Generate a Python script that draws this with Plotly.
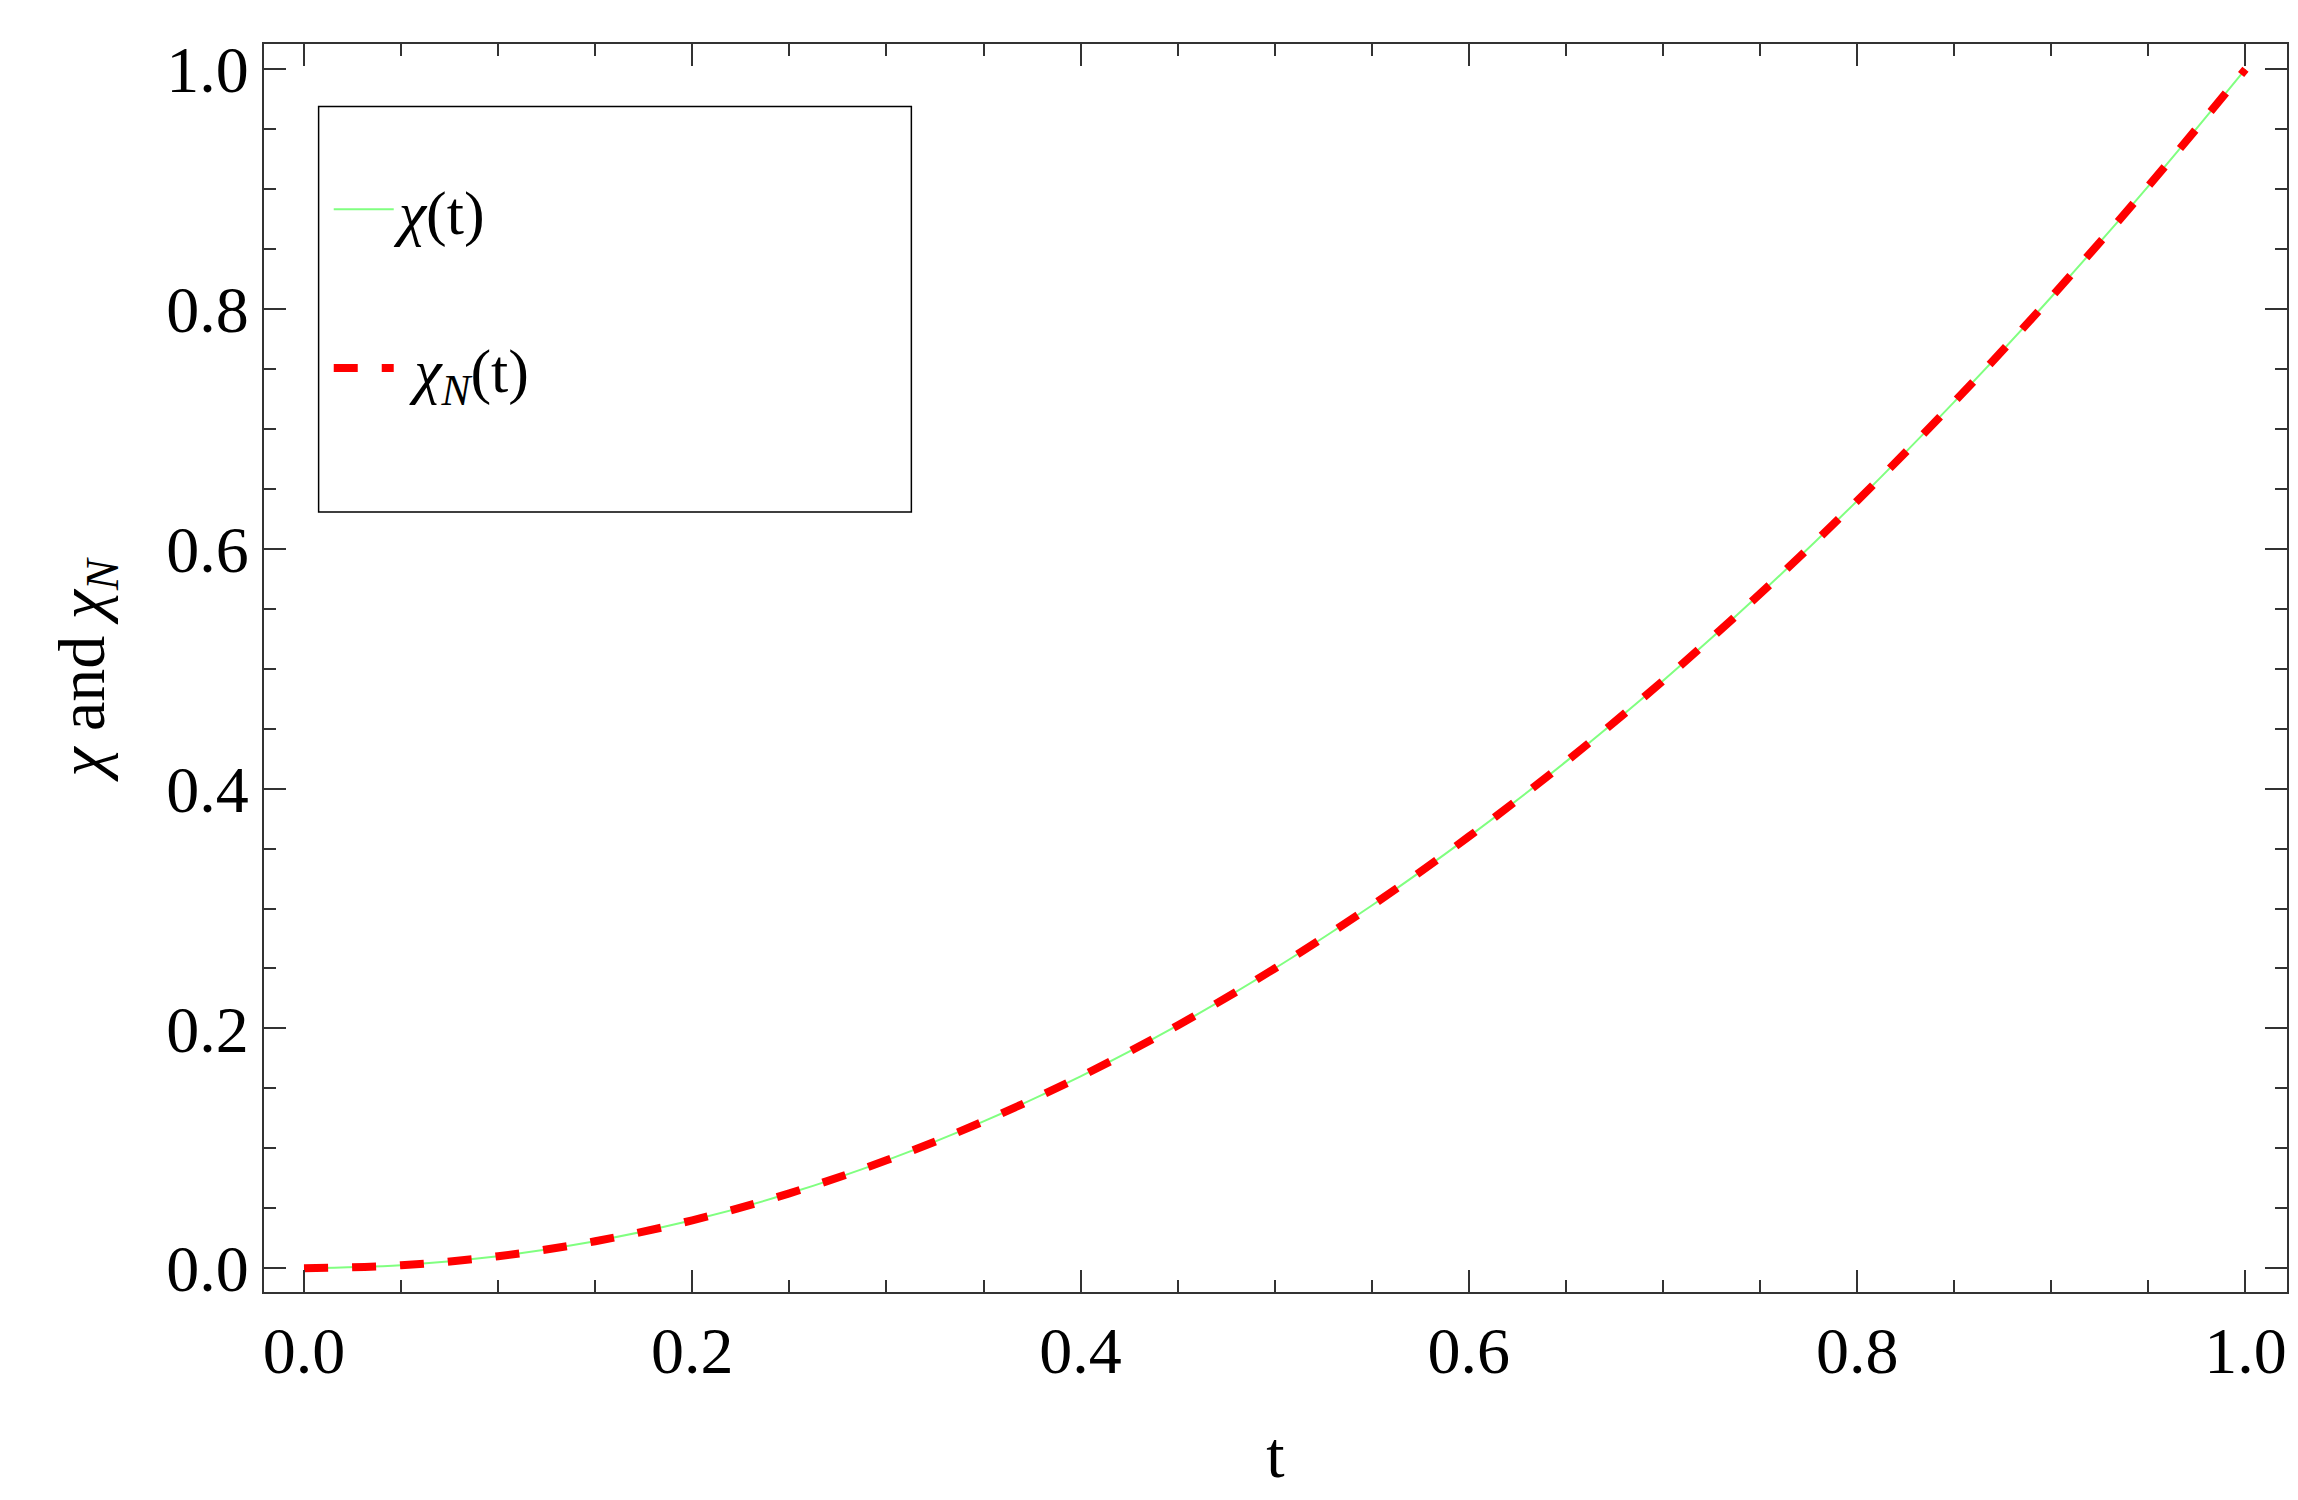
import plotly.graph_objects as go

# values
t_vals = [0.0, 0.05, 0.1, 0.15, 0.2, 0.25, 0.3, 0.35, 0.4, 0.45, 0.5,
          0.55, 0.6, 0.65, 0.7, 0.75, 0.8, 0.85, 0.9, 0.95, 1.0]
chi_vals = [0.0, 0.0025, 0.01, 0.0225, 0.04, 0.0625, 0.09, 0.1225, 0.16, 0.2025, 0.25,
            0.3025, 0.36, 0.4225, 0.49, 0.5625, 0.64, 0.7225, 0.81, 0.9025, 1.0]
chi_n_vals = [0.0, 0.0025, 0.01, 0.0225, 0.04, 0.0625, 0.09, 0.1225, 0.16, 0.2025, 0.25,
              0.3025, 0.36, 0.4225, 0.49, 0.5625, 0.64, 0.7225, 0.81, 0.9025, 1.0]

FONT = "Liberation Serif"

fig = go.Figure()
fig.add_trace(go.Scatter(x=t_vals, y=chi_vals, mode="lines", line_shape="spline",
                         name="<i>χ</i>(t)", legendgroup="a",
                         line=dict(color="#80ff80", width=2)))
fig.add_trace(go.Scatter(x=t_vals, y=chi_n_vals, mode="lines", line_shape="spline",
                         name=" <i>χ<sub>N</sub></i>(t)", legendgroup="b",
                         line=dict(color="#ff0000", width=8, dash="dash")))

axis_common = dict(ticks="inside", mirror="allticks", showline=True, linecolor="#333",
                   linewidth=2, tickcolor="#333", ticklen=22, tickwidth=1.5,
                   showgrid=False, zeroline=False, dtick=0.2, tickformat=".1f",
                   tickfont=dict(family=FONT, size=66, color="black"),
                   minor=dict(dtick=0.05, ticks="inside", ticklen=12, tickcolor="#333"))

fig.update_layout(
    width=2298, height=1500,
    plot_bgcolor="white", paper_bgcolor="white",
    margin=dict(l=256, r=19, t=36, b=216),
    font=dict(family=FONT, color="black"),
    xaxis=dict(range=[-0.0206, 1.0214], title=dict(text="t", font=dict(size=66), standoff=45),
               **axis_common),
    yaxis=dict(range=[-0.0198, 1.021],
               title=dict(text="<i>χ</i> and <i>χ<sub>N</sub></i>", font=dict(size=66), standoff=40),
               **axis_common),
    legend=dict(x=0.032, y=0.905, xanchor="left", yanchor="top",
                borderwidth=0, bgcolor="rgba(0,0,0,0)",
                font=dict(family=FONT, size=62), itemwidth=60,
                tracegroupgap=75, traceorder="grouped"),
    shapes=[dict(type="rect", xref="paper", yref="paper", x0=0.027, x1=0.32,
                 y0=0.625, y1=0.95, line=dict(color="black", width=1.5))],
)

fig.write_html("out.html")
